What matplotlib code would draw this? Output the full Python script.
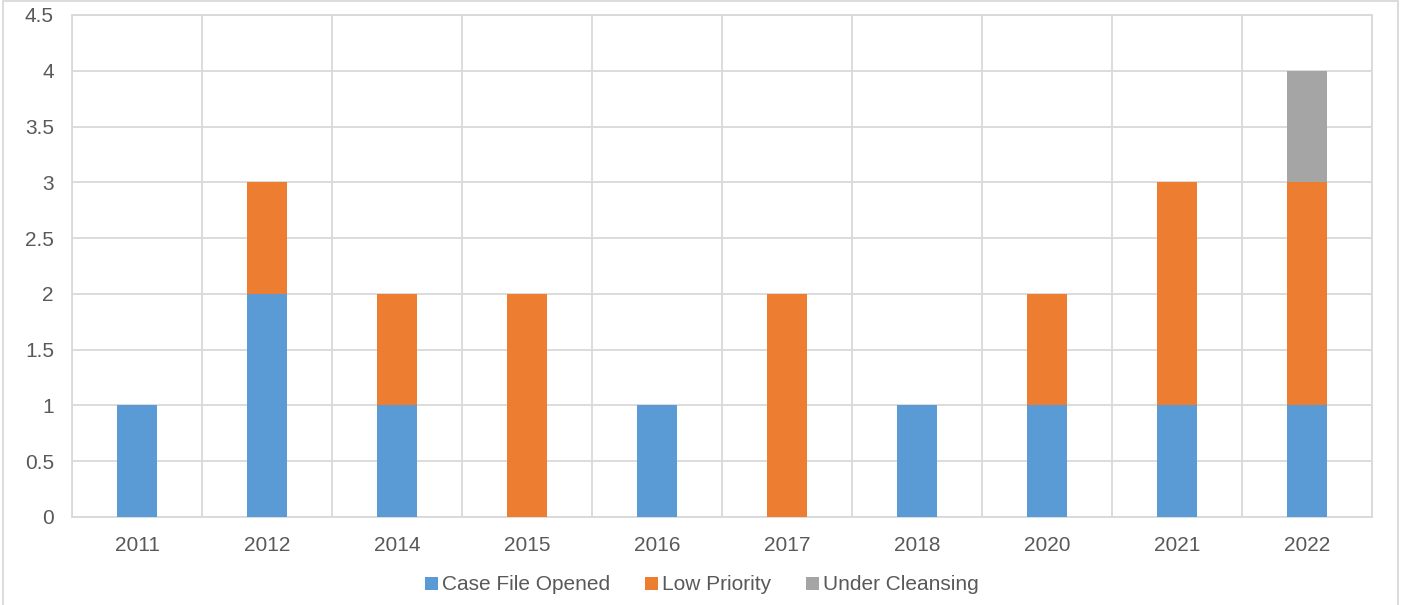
import numpy as np
import matplotlib.pyplot as plt
from matplotlib.patches import Rectangle

years = ['2011', '2012', '2014', '2015', '2016', '2017', '2018', '2020', '2021', '2022']
case_file_opened = [1, 2, 1, 0, 1, 0, 1, 1, 1, 1]
low_priority = [0, 1, 1, 2, 0, 2, 0, 1, 2, 2]
under_cleansing = [0, 0, 0, 0, 0, 0, 0, 0, 0, 1]

blue = '#5B9BD5'
orange = '#ED7D31'
gray = '#A5A5A5'
txt = '#595959'
grid = '#D9D9D9'

plt.rcParams['font.family'] = ['Liberation Sans', 'DejaVu Sans']

fig = plt.figure(figsize=(14.01, 6.05), dpi=100)
ax = fig.add_axes([72 / 1401, 1 - 517 / 605, 1300 / 1401, 502 / 605])

x = np.arange(len(years))
w = 0.31
cfo = np.array(case_file_opened)
lp = np.array(low_priority)
uc = np.array(under_cleansing)
ax.bar(x, cfo, w, color=blue, label='Case File Opened', zorder=3)
ax.bar(x, lp, w, bottom=cfo, color=orange, label='Low Priority', zorder=3)
ax.bar(x, uc, w, bottom=cfo + lp, color=gray, label='Under Cleansing', zorder=3)

ax.set_xlim(-0.5, len(years) - 0.5)
ax.set_ylim(0, 4.5)
ax.set_yticks(np.arange(0, 4.51, 0.5))
ax.set_yticklabels(['0', '0.5', '1', '1.5', '2', '2.5', '3', '3.5', '4', '4.5'])
ax.set_xticks(x)
ax.set_xticklabels(years)
ax.set_xticks(np.arange(-0.5, len(years), 1), minor=True)

ax.grid(axis='y', which='major', color=grid, linewidth=1.3, zorder=0)
ax.grid(axis='x', which='minor', color=grid, linewidth=1.3, zorder=0)
ax.tick_params(axis='both', which='both', length=0, labelsize=15, colors=txt)
ax.tick_params(axis='x', pad=14)
ax.tick_params(axis='y', pad=13)
for s in ax.spines.values():
    s.set_color(grid)
    s.set_linewidth(1.3)

fig.legend(loc='center', bbox_to_anchor=(702 / 1401, 1 - 585 / 605), ncol=3, frameon=False,
           fontsize=15, labelcolor=txt, handlelength=0.6, handleheight=0.6,
           handletextpad=0.2, columnspacing=1.7)

fig.patches.append(Rectangle((3 / 1401, -0.05), 1395 / 1401, 1.05 - 1 / 605, transform=fig.transFigure,
                             fill=False, edgecolor=grid, linewidth=1.3))

fig.savefig('out.png', dpi=100)
